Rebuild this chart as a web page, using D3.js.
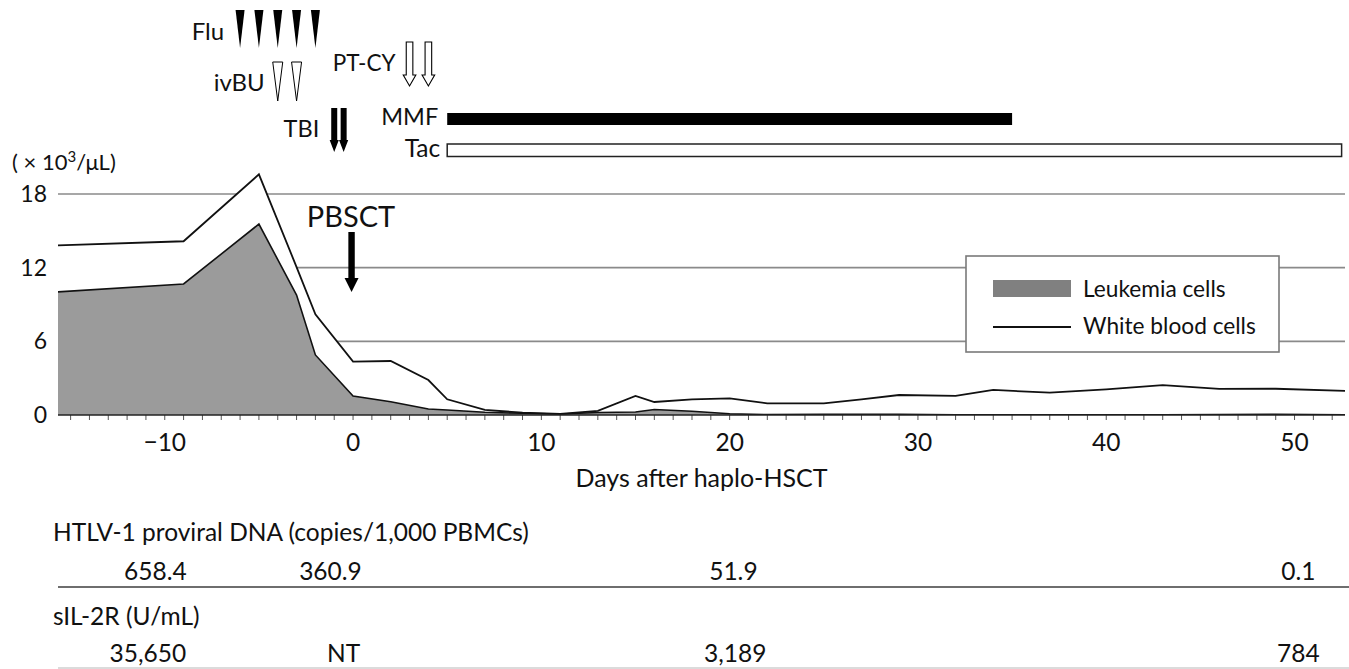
<!DOCTYPE html>
<html><head><meta charset="utf-8">
<script src="https://cdn.jsdelivr.net/npm/d3@7"></script>
<style>
html,body{margin:0;padding:0;background:#fff;}
svg text{font-family:Lato,"Open Sans",sans-serif;fill:#111;}
</style></head>
<body><svg id="c" width="1349" height="669"></svg>
<script>
// ---------- data ----------
const wbcDays = [-16, -9, -5, -3, -2, 0, 2, 4, 5, 7, 9, 11, 13, 15, 16, 18, 20, 22, 25, 27, 29, 32, 34, 37, 40, 43, 46, 49, 53];
const wbcValues = [13.8, 14.15, 19.6, 12.05, 8.2, 4.35, 4.4, 2.85, 1.28, 0.41, 0.19, 0.08, 0.33, 1.55, 1.06, 1.28, 1.36, 0.95, 0.95, 1.28, 1.63, 1.55, 2.04, 1.82, 2.09, 2.44, 2.12, 2.14, 1.95];
const leukDays = [-16, -9, -5, -3, -2, 0, 2, 4, 5, 7, 9, 11, 13, 15, 16, 18, 20, 22, 25, 27, 29, 32, 34, 37, 40, 43, 46, 49, 53];
const leukValues = [10.0, 10.67, 15.55, 9.77, 4.89, 1.55, 1.08, 0.49, 0.41, 0.22, 0.14, 0.08, 0.2, 0.25, 0.45, 0.3, 0.1, 0.03, 0.05, 0.05, 0.05, 0.02, 0.02, 0.02, 0.02, 0.02, 0.03, 0.05, 0.02];
const yTicks = [0, 6, 12, 18];
const xTickLabels = [-10, 0, 10, 20, 30, 40, 50];
const fluDays = [-6, -5, -4, -3, -2];
const ivbuDays = [-4, -3];
const ptcyDays = [3, 4];
const tbiDays = [-1, -0.5];
const pbsctDay = 0;
const mmfRange = [5, 35];
const tacRange = [5, 52.5];
const legendLabels = ["Leukemia cells", "White blood cells"];
const htlvDays = [-10.5, -1.2, 20.2, 50.2];
const htlvValues = ["658.4", "360.9", "51.9", "0.1"];
const sil2rDays = [-10.9, -0.5, 20.3, 50.2];
const sil2rValues = ["35,650", "NT", "3,189", "784"];

// ---------- scales ----------
const svg = d3.select("#c");
const x = d3.scaleLinear().domain([-15.67, 52.68]).range([58, 1345]);
const y = d3.scaleLinear().domain([0, 18]).range([415, 194]);
const [x0, x1] = x.range();

svg.append("defs").append("clipPath").attr("id", "plot")
  .append("rect").attr("x", x0).attr("y", 0).attr("width", x1 - x0).attr("height", 415);

// gridlines
svg.append("g").selectAll("line").data(yTicks.filter(d => d > 0)).join("line")
  .attr("x1", x0).attr("x2", x1).attr("y1", d => y(d)).attr("y2", d => y(d))
  .attr("stroke", "#8a8a8a").attr("stroke-width", 1.6);

const wbc = wbcDays.map((d, i) => [d, wbcValues[i]]);
const leuk = leukDays.map((d, i) => [d, leukValues[i]]);
const area = d3.area().x(d => x(d[0])).y0(y(0)).y1(d => y(d[1]));
const line = d3.line().x(d => x(d[0])).y(d => y(d[1]));

const g = svg.append("g").attr("clip-path", "url(#plot)");
g.append("path").datum(wbc).attr("d", area).attr("fill", "#fff");
g.append("path").datum(leuk).attr("d", area).attr("fill", "#9b9b9b");
g.append("path").datum(leuk).attr("d", line).attr("fill", "none").attr("stroke", "#111").attr("stroke-width", 1.6);
g.append("path").datum(wbc).attr("d", line).attr("fill", "none").attr("stroke", "#111").attr("stroke-width", 1.8);

// x axis
const dayTicks = d3.range(Math.ceil(x.domain()[0]), Math.floor(x.domain()[1]) + 1);
svg.append("g").selectAll("line").data(dayTicks).join("line")
  .attr("x1", d => x(d)).attr("x2", d => x(d)).attr("y1", 415).attr("y2", 420)
  .attr("stroke", "#555").attr("stroke-width", 1);
svg.append("line").attr("x1", x0).attr("x2", x1).attr("y1", y(0)).attr("y2", y(0))
  .attr("stroke", "#222").attr("stroke-width", 1.6);
svg.append("g").selectAll("text").data(xTickLabels).join("text")
  .attr("x", d => x(d)).attr("y", 451).attr("text-anchor", "middle")
  .attr("font-size", 24.5).text(d => d3.format("")(d));
svg.append("text").attr("x", (x0 + x1) / 2).attr("y", 487).attr("text-anchor", "middle")
  .attr("font-size", 25).text("Days after haplo-HSCT");

// y axis labels
svg.append("g").selectAll("text").data(yTicks).join("text")
  .attr("x", 47).attr("y", d => y(d) + 8).attr("text-anchor", "end")
  .attr("font-size", 23).text(d => d);
const unit = svg.append("text").attr("x", 12).attr("y", 170).attr("font-size", 22);
unit.append("tspan").text("( × 10");
unit.append("tspan").attr("font-size", 15).attr("dy", -8).text("3");
unit.append("tspan").attr("dy", 8).text("/μL)");

// ---------- treatment annotations ----------
const ann = svg.append("g");
ann.selectAll("path.flu").data(fluDays).join("path").attr("class", "flu")
  .attr("d", d => `M${x(d) - 4.5},10 L${x(d) + 4.5},10 L${x(d)},48 Z`).attr("fill", "#000");
ann.append("text").attr("x", x(fluDays[0]) - 16).attr("y", 40).attr("text-anchor", "end")
  .attr("font-size", 24).text("Flu");
ann.selectAll("path.ivbu").data(ivbuDays).join("path").attr("class", "ivbu")
  .attr("d", d => `M${x(d) - 5},62 L${x(d) + 5},62 L${x(d)},101 Z`)
  .attr("fill", "#fff").attr("stroke", "#000").attr("stroke-width", 1);
ann.append("text").attr("x", x(ivbuDays[0]) - 13).attr("y", 91).attr("text-anchor", "end")
  .attr("font-size", 24).text("ivBU");
const blockArrow = (cx, top, headStart, tip, sw, hw) =>
  `M${cx - sw},${top} L${cx + sw},${top} L${cx + sw},${headStart} L${cx + hw},${headStart} L${cx},${tip} L${cx - hw},${headStart} L${cx - sw},${headStart} Z`;
ann.selectAll("path.ptcy").data(ptcyDays).join("path").attr("class", "ptcy")
  .attr("d", d => blockArrow(x(d), 42, 75, 86, 3.3, 6.3))
  .attr("fill", "#fff").attr("stroke", "#000").attr("stroke-width", 1.1);
ann.append("text").attr("x", x(ptcyDays[0]) - 14).attr("y", 71).attr("text-anchor", "end")
  .attr("font-size", 22.5).text("PT-CY");
ann.selectAll("path.tbi").data(tbiDays).join("path").attr("class", "tbi")
  .attr("d", d => blockArrow(x(d), 108, 140, 152, 3, 4.6)).attr("fill", "#000");
ann.append("text").attr("x", x(tbiDays[0]) - 15).attr("y", 137).attr("text-anchor", "end")
  .attr("font-size", 23.5).text("TBI");
ann.append("rect").attr("x", x(mmfRange[0])).attr("y", 113).attr("width", x(mmfRange[1]) - x(mmfRange[0])).attr("height", 12).attr("fill", "#000");
ann.append("text").attr("x", x(mmfRange[0]) - 9).attr("y", 125).attr("text-anchor", "end")
  .attr("font-size", 23.5).text("MMF");
ann.append("rect").attr("x", x(tacRange[0])).attr("y", 144).attr("width", x(tacRange[1]) - x(tacRange[0])).attr("height", 12.5)
  .attr("fill", "#fff").attr("stroke", "#222").attr("stroke-width", 1.5);
ann.append("text").attr("x", x(tacRange[0]) - 7).attr("y", 157).attr("text-anchor", "end")
  .attr("font-size", 24.5).text("Tac");
ann.append("path").attr("d", blockArrow(x(pbsctDay) - 1.5, 232, 278, 292, 3.2, 7)).attr("fill", "#000");
ann.append("text").attr("x", x(pbsctDay) - 2).attr("y", 227).attr("text-anchor", "middle")
  .attr("font-size", 29).text("PBSCT");

// ---------- legend ----------
const lg = svg.append("g");
lg.append("rect").attr("x", 966).attr("y", 256).attr("width", 313).attr("height", 96)
  .attr("fill", "#fff").attr("stroke", "#7a7a7a").attr("stroke-width", 1.6);
lg.append("rect").attr("x", 993).attr("y", 280).attr("width", 78).attr("height", 17).attr("fill", "#808080");
lg.append("line").attr("x1", 993).attr("x2", 1071).attr("y1", 327).attr("y2", 327).attr("stroke", "#111").attr("stroke-width", 2);
lg.selectAll("text").data(legendLabels).join("text")
  .attr("x", 1083).attr("y", (d, i) => 297 + i * 37).attr("font-size", 22.7).text(d => d);

// ---------- table ----------
const tb = svg.append("g");
tb.append("text").attr("x", 53).attr("y", 541).attr("font-size", 24.5).text("HTLV-1 proviral DNA (copies/1,000 PBMCs)");
tb.selectAll("text.h").data(htlvValues).join("text").attr("class", "h")
  .attr("x", (d, i) => x(htlvDays[i])).attr("y", 580).attr("text-anchor", "middle").attr("font-size", 24.5).text(d => d);
tb.append("line").attr("x1", 58).attr("x2", 1349).attr("y1", 587).attr("y2", 587).attr("stroke", "#6e6e6e").attr("stroke-width", 2);
tb.append("text").attr("x", 53).attr("y", 625).attr("font-size", 24.5).text("sIL-2R (U/mL)");
tb.selectAll("text.s").data(sil2rValues).join("text").attr("class", "s")
  .attr("x", (d, i) => x(sil2rDays[i])).attr("y", 662).attr("text-anchor", "middle").attr("font-size", 24.5).text(d => d);
tb.append("line").attr("x1", 58).attr("x2", 1349).attr("y1", 668).attr("y2", 668).attr("stroke", "#cfcfcf").attr("stroke-width", 1.5);
</script></body></html>
